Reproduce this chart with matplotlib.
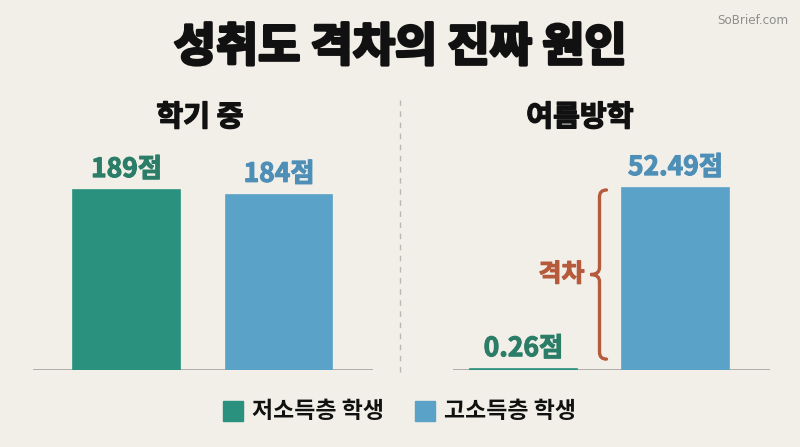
import matplotlib

matplotlib.use("Agg")
import matplotlib.pyplot as plt
import matplotlib.patheffects as pe
from matplotlib.path import Path
from matplotlib.patches import PathPatch, Rectangle

plt.rcParams["font.family"] = ["Noto Sans CJK KR", "DejaVu Sans"]

BG = "#f1efe7"
GREEN = "#2a917e"
BLUE = "#5aa2c7"
GREEN_TXT = "#2b7d68"
BLUE_TXT = "#4e8fb8"
BRACE = "#b65a3c"
BASE = "#a9a9a6"
INK = "#111111"

title = "성취도 격차의 진짜 원인"
panels = ["학기 중", "여름방학"]
groups = ["저소득층 학생", "고소득층 학생"]
semester = [189, 184]
summer = [0.26, 52.49]
semester_lbl = ["189점", "184점"]
summer_lbl = ["0.26점", "52.49점"]
gap_lbl = "격차"

W, H = 800, 447
fig = plt.figure(figsize=(8, 4.47), dpi=100, facecolor=BG)


def px_axes(x0, x1, y_base, y_top):
    return fig.add_axes([x0 / W, (H - y_base) / H, (x1 - x0) / W, (y_base - y_top) / H])


def thick(c, w=0.8):
    return [pe.withStroke(linewidth=w, foreground=c)]


def panel(ax, vals, lbls, xlim, ytop):
    ax.set_facecolor("none")
    ax.bar([0, 1], vals, width=0.70, color=[GREEN, BLUE], edgecolor=[GREEN, BLUE],
           linewidth=1.2, zorder=3)
    for i, (v, s) in enumerate(zip(vals, lbls)):
        c = [GREEN_TXT, BLUE_TXT][i]
        ax.annotate(s, (i, v), xytext=(0, 5), textcoords="offset points",
                    ha="center", va="bottom", fontsize=19, fontweight="bold",
                    color=c, path_effects=thick(c))
    ax.axhline(0, color=BASE, lw=2, zorder=2)
    ax.set_xlim(*xlim)
    ax.set_ylim(0, ytop)
    ax.axis("off")


axl = px_axes(33, 373, 370, 100)
panel(axl, semester, semester_lbl, (-0.613, 1.616), max(semester) * 270 / 180)

axr = px_axes(453, 770, 370, 100)
ytop_r = max(summer) * 270 / 182
panel(axr, summer, summer_lbl, (-0.464, 1.622), ytop_r)

# curly brace between the two summer bars
ux = 1 / 152.0
uy = ytop_r / 270.0
xs = 0.50
y0 = summer[0] + 10 * uy
y1 = summer[1] - 2 * uy
ym = (y0 + y1) / 2
verts = [
    (xs + 7 * ux, y1), (xs, y1), (xs, y1 - 7 * uy),
    (xs, ym + 7 * uy),
    (xs, ym), (xs - 9 * ux, ym),
    (xs, ym), (xs, ym - 7 * uy),
    (xs, y0 + 7 * uy),
    (xs, y0), (xs + 7 * ux, y0),
]
codes = [Path.MOVETO, Path.CURVE3, Path.CURVE3, Path.LINETO,
         Path.CURVE3, Path.CURVE3, Path.CURVE3, Path.CURVE3,
         Path.LINETO, Path.CURVE3, Path.CURVE3]
axr.add_patch(PathPatch(Path(verts, codes), fill=False, ec=BRACE, lw=2.4,
                        capstyle="round", zorder=4))
axr.text(xs - 15 * ux, ym, gap_lbl, ha="right", va="center", fontsize=18,
         fontweight="bold", color=BRACE, path_effects=thick(BRACE))

# divider
fig.add_artist(plt.Line2D([400 / W, 400 / W], [(H - 372) / H, (H - 100) / H],
                          color="#b8b8b4", lw=1, ls=(0, (4, 4))))

fig.text(0.5, (H - 48) / H, title, ha="center", va="center", fontsize=33,
         fontweight="black", color=INK, path_effects=thick(INK, 2.2))
fig.text(200 / W, (H - 117) / H, panels[0], ha="center", va="center",
         fontsize=21, fontweight="bold", color=INK, path_effects=thick(INK, 1))
fig.text(580 / W, (H - 117) / H, panels[1], ha="center", va="center",
         fontsize=21, fontweight="bold", color=INK, path_effects=thick(INK, 1))
fig.text(788 / W, (H - 20) / H, "SoBrief.com", ha="right", va="center",
         fontsize=9.5, color="#8e8e8e", family=["DejaVu Sans"], fontstretch="condensed")

# legend
for x0, g, c in [(223, groups[0], GREEN), (415, groups[1], BLUE)]:
    fig.add_artist(Rectangle((x0 / W, (H - 421) / H), 20 / W, 20 / H,
                             transform=fig.transFigure, color=c))
    fig.text((x0 + 29) / W, (H - 411) / H, g, ha="left", va="center",
             fontsize=16.5, fontweight="bold", color=INK)

fig.savefig("out.png", dpi=100, facecolor=BG)
